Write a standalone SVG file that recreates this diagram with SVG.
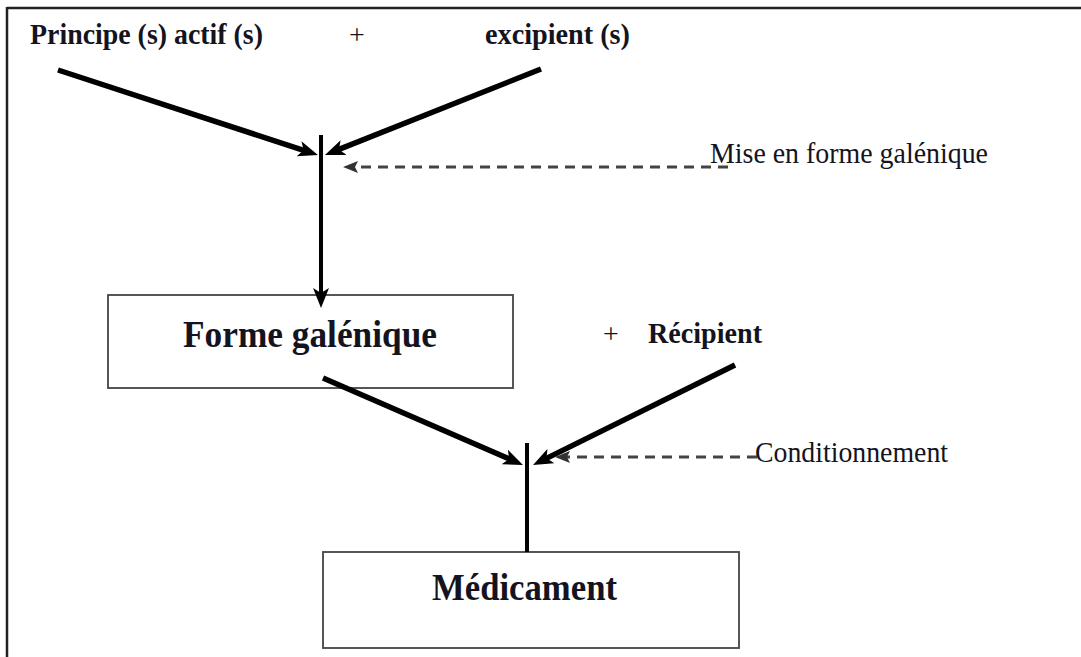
<svg xmlns="http://www.w3.org/2000/svg" width="1081" height="657" viewBox="0 0 1081 657">
<defs>
<style>
.t{font-family:"Liberation Serif","Times New Roman",serif;fill:#141420}
.b{font-weight:bold}
.box{fill:#fff;stroke:#444;stroke-width:1.8}
.solid{stroke:#000;stroke-width:5.5;fill:none}
.vert{stroke:#000;stroke-width:4;fill:none}
.dash{stroke:#444;stroke-width:3;stroke-dasharray:10 7;fill:none}
</style>
<marker id="ah" viewBox="0 0 20 16" refX="9" refY="8" markerWidth="20" markerHeight="16" markerUnits="userSpaceOnUse" orient="auto">
<path d="M0,0 L20,8 L0,16 L5,8 z" fill="#000"/>
</marker>
<marker id="ahs" viewBox="0 0 15 12" refX="4" refY="6" markerWidth="15" markerHeight="12" markerUnits="userSpaceOnUse" orient="auto">
<path d="M0,0 L15,6 L0,12 L3,6 z" fill="#333"/>
</marker>
</defs>
<rect width="1081" height="657" fill="#fff"/>
<g id="frame">
<line x1="7" y1="8" x2="1081" y2="8" stroke="#222" stroke-width="2.5"/>
<line x1="7" y1="7" x2="7" y2="657" stroke="#222" stroke-width="2.5"/>
</g>
<g id="principe">
<text class="t b" x="30" y="44" font-size="29" textLength="233" lengthAdjust="spacingAndGlyphs">Principe (s) actif (s)</text>
</g>
<g id="plus1">
<text class="t" x="357" y="44" font-size="28" text-anchor="middle">+</text>
</g>
<g id="excipient">
<text class="t b" x="485" y="44" font-size="29" textLength="145" lengthAdjust="spacingAndGlyphs">excipient (s)</text>
</g>
<g id="mise">
<text class="t" x="710" y="163" font-size="29" textLength="278" lengthAdjust="spacingAndGlyphs">Mise en forme galénique</text>
</g>
<g id="forme">
<rect class="box" x="108" y="295" width="405" height="93"/>
<text class="t b" x="183" y="347" font-size="37" textLength="254" lengthAdjust="spacingAndGlyphs">Forme galénique</text>
</g>
<g id="recipient">
<text class="t" x="611" y="343" font-size="28" text-anchor="middle">+</text>
<text class="t b" x="648" y="343" font-size="29" textLength="114" lengthAdjust="spacingAndGlyphs">Récipient</text>
</g>
<g id="conditionnement">
<text class="t" x="755" y="462" font-size="29" textLength="193" lengthAdjust="spacingAndGlyphs">Conditionnement</text>
</g>
<g id="medicament">
<rect class="box" x="323" y="552" width="416" height="96"/>
<text class="t b" x="432" y="600" font-size="37" textLength="185" lengthAdjust="spacingAndGlyphs">Médicament</text>
</g>
<g id="connectors">
<line class="solid" x1="58" y1="70" x2="307.5" y2="151.6" marker-end="url(#ah)"/>
<line class="solid" x1="541" y1="69" x2="335.2" y2="150.9" marker-end="url(#ah)"/>
<line class="vert" x1="321" y1="135" x2="321" y2="297" marker-end="url(#ah)"/>
<line class="dash" x1="728" y1="167" x2="354" y2="167" marker-end="url(#ahs)"/>
<line class="solid" x1="323" y1="378" x2="512.9" y2="460.6" marker-end="url(#ah)"/>
<line class="solid" x1="735" y1="365" x2="542.9" y2="460.1" marker-end="url(#ah)"/>
<line class="vert" x1="527" y1="443" x2="527" y2="552"/>
<line class="dash" x1="757" y1="457" x2="566" y2="457" marker-end="url(#ahs)"/>
</g>
</svg>
